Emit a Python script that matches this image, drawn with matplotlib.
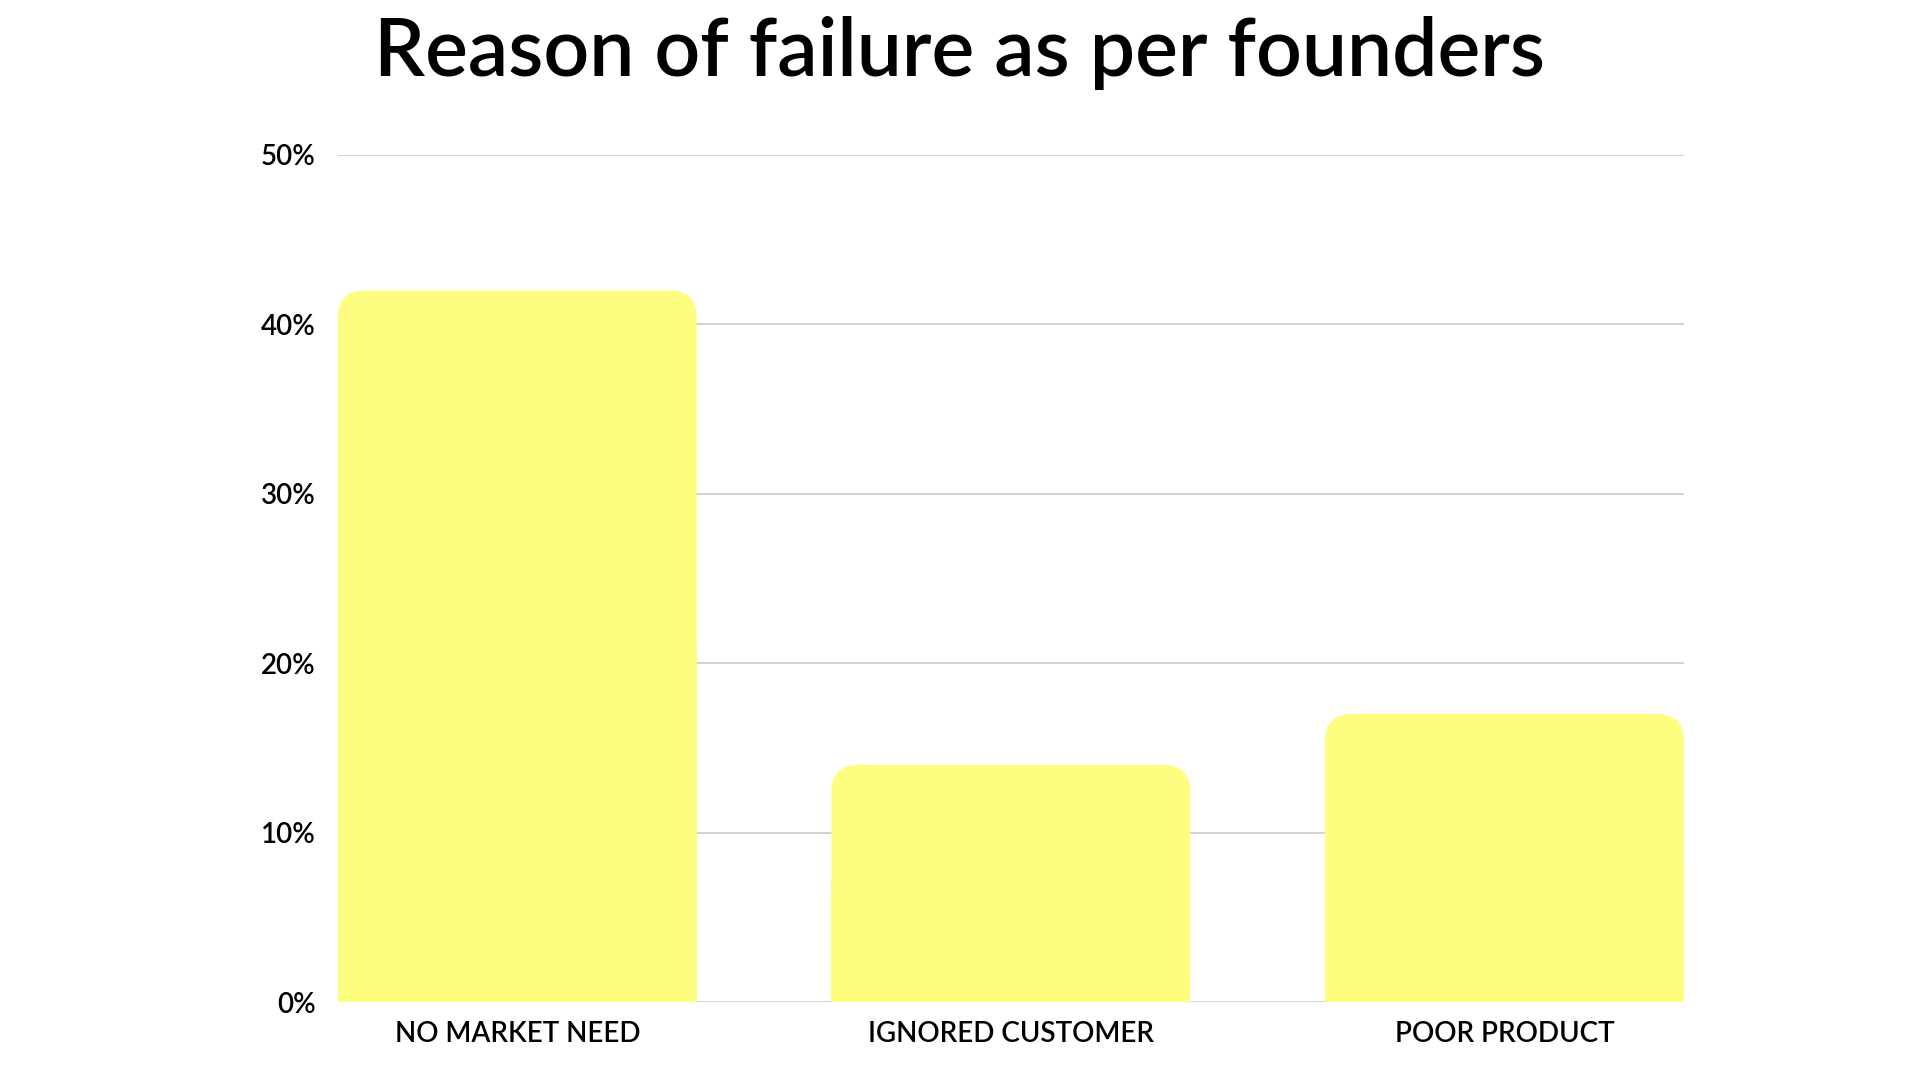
import matplotlib.pyplot as plt
from matplotlib.patches import FancyBboxPatch, Rectangle

categories = ["NO MARKET NEED", "IGNORED CUSTOMER", "POOR PRODUCT"]
values = [42, 14, 17]
yticks = [0, 10, 20, 30, 40, 50]
title = "Reason of failure as per founders"

BAR_COLOR = "#FDFD80"
GRID_COLOR = "#cfcfcf"
FONT = ["Lato", "DejaVu Sans"]

plt.rcParams['font.family'] = FONT

fig = plt.figure(figsize=(19.2, 10.8), dpi=100)
ax = fig.add_axes([0.176, 0.0722, 0.701, 0.7843])

width = 0.727
xmin, xmax = -width / 2, len(categories) - 1 + width / 2
ax.set_xlim(xmin, xmax)
ax.set_ylim(0, 50)

# keep the corner circular: pixels per unit on each axis
px_x = fig.get_figwidth() * fig.dpi * 0.701 / (xmax - xmin)
px_y = fig.get_figheight() * fig.dpi * 0.7843 / 50
aspect = px_x / px_y
r = 27 / px_x

for i, v in enumerate(values):
    x0 = i - width / 2
    top = FancyBboxPatch((x0, 0), width, v,
                         boxstyle="round,pad=0,rounding_size=%f" % r,
                         mutation_aspect=aspect, fc=BAR_COLOR, ec="none",
                         zorder=3)
    ax.add_patch(top)
    # square off the bottom corners
    ax.add_patch(Rectangle((x0, 0), width, v / 2, fc=BAR_COLOR, ec="none",
                           zorder=3))

ax.set_yticks(yticks)
ax.set_yticklabels(["%d%%" % t for t in yticks], fontsize=20,
                   fontweight="semibold")
ax.set_xticks(range(len(categories)))
ax.set_xticklabels(categories, fontsize=20, fontweight="semibold")
ax.tick_params(axis="y", length=0, pad=16)
ax.tick_params(axis="x", length=0, pad=14)
ax.grid(axis="y", color=GRID_COLOR, linewidth=1.3, zorder=0)
ax.set_axisbelow(True)
for s in ax.spines.values():
    s.set_visible(False)

fig.text(0.5, 1 - 76 / 1080, title, ha="center", va="baseline",
         fontsize=58, fontweight="semibold")

fig.savefig("out.png", dpi=100, facecolor="white")
